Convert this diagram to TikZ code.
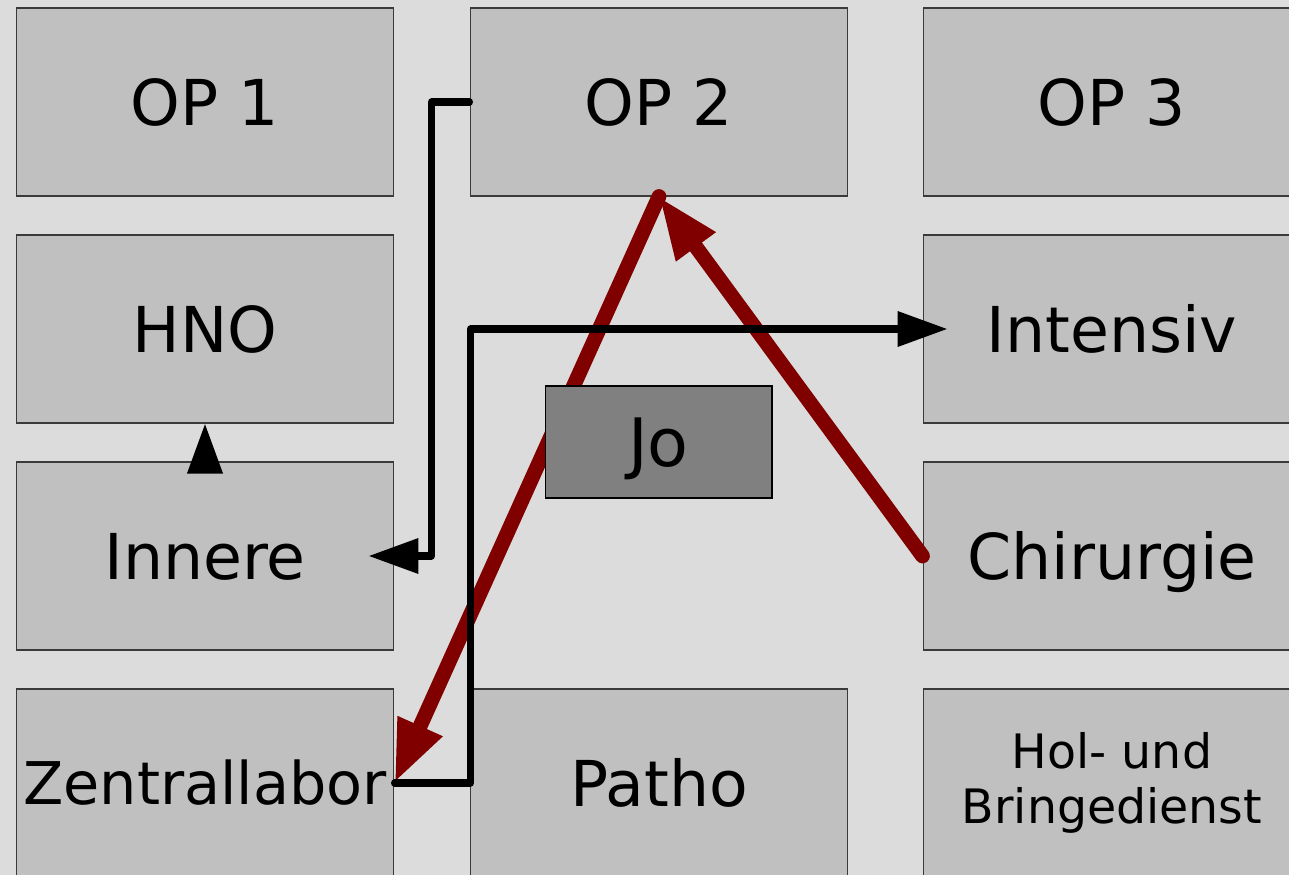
\documentclass[tikz,border=0pt]{standalone}
\usepackage{fontspec}
\setmainfont{DejaVu Sans}
\usepackage{tikz}
\usetikzlibrary{arrows.meta,positioning}
\definecolor{stBg}{HTML}{DCDCDC}
\definecolor{stRoom}{HTML}{C0C0C0}
\definecolor{stEdge}{HTML}{3A3A3A}
\definecolor{stPerson}{HTML}{808080}
\definecolor{stRed}{HTML}{800000}
\tikzset{
  roombox/.style={rectangle,draw=stEdge,line width=0.6pt,fill=stRoom,
    minimum width=7.56cm,minimum height=3.76cm,inner sep=0pt,
    align=center,font=\fontsize{36}{42}\selectfont},
  room/.style={roombox,text height=26.2pt,text depth=0pt},
  person/.style={rectangle,draw=black,line width=0.6pt,fill=stPerson,
    minimum width=4.54cm,minimum height=2.24cm,inner sep=0pt,
    text height=27.7pt,text depth=0pt,
    font=\fontsize{38}{44}\selectfont},
  blk/.style={-{Triangle[length=1.0cm,width=0.68cm]},line width=4pt,
    line join=round,line cap=round,color=black},
  redarr/.style={-{Triangle[length=1.25cm,width=0.9cm]},line width=8.4pt,
    line cap=round,color=stRed},
}
\begin{document}
\begin{tikzpicture}[x=0.02cm,y=-0.02cm]
  \fill[stBg] (0,0) rectangle (1289,875);
  \useasboundingbox (0,0) rectangle (1289,875);

  % rooms, three columns
  \node[room] (op1) at (205,102) {OP 1};
  \node[room] (op2) at (659,102) {OP 2};
  \node[room] (op3) at (1112,102) {OP 3};
  \node[room] (hno) at (205,329) {HNO};
  \node[room] (intensiv) at (1112,329) {Intensiv};
  \node[room] (innere) at (205,556) {Innere};
  \node[room] (chir) at (1112,556) {Chirurgie};
  \node[room,font=\fontsize{33.5}{38}\selectfont,text height=24.4pt]
    (labor) at (205,783) {Zentrallabor};
  \node[room] (patho) at (659,783) {Patho};
  \node[roombox,font=\fontsize{27}{31}\selectfont] (dienst) at (1112,783)
    {Hol- und\\Bringedienst};

  % red walk of Jo
  \draw[redarr] (op2.south) -- (labor.east);
  \draw[redarr] (chir.west) -- (op2.south);

  % black routes
  \draw[blk,shorten >=-0.52cm] (op2.west) -- ++(-0.76cm,0) |- (innere.east);
  \draw[blk,shorten >=-0.5cm] (labor.east) -- ++(1.52cm,0) |- (intensiv.west);
  \draw[blk,line cap=butt] (innere.north) -- (hno.south);

  \node[person] (jo) at (658.5,442) {Jo};
\end{tikzpicture}
\end{document}
